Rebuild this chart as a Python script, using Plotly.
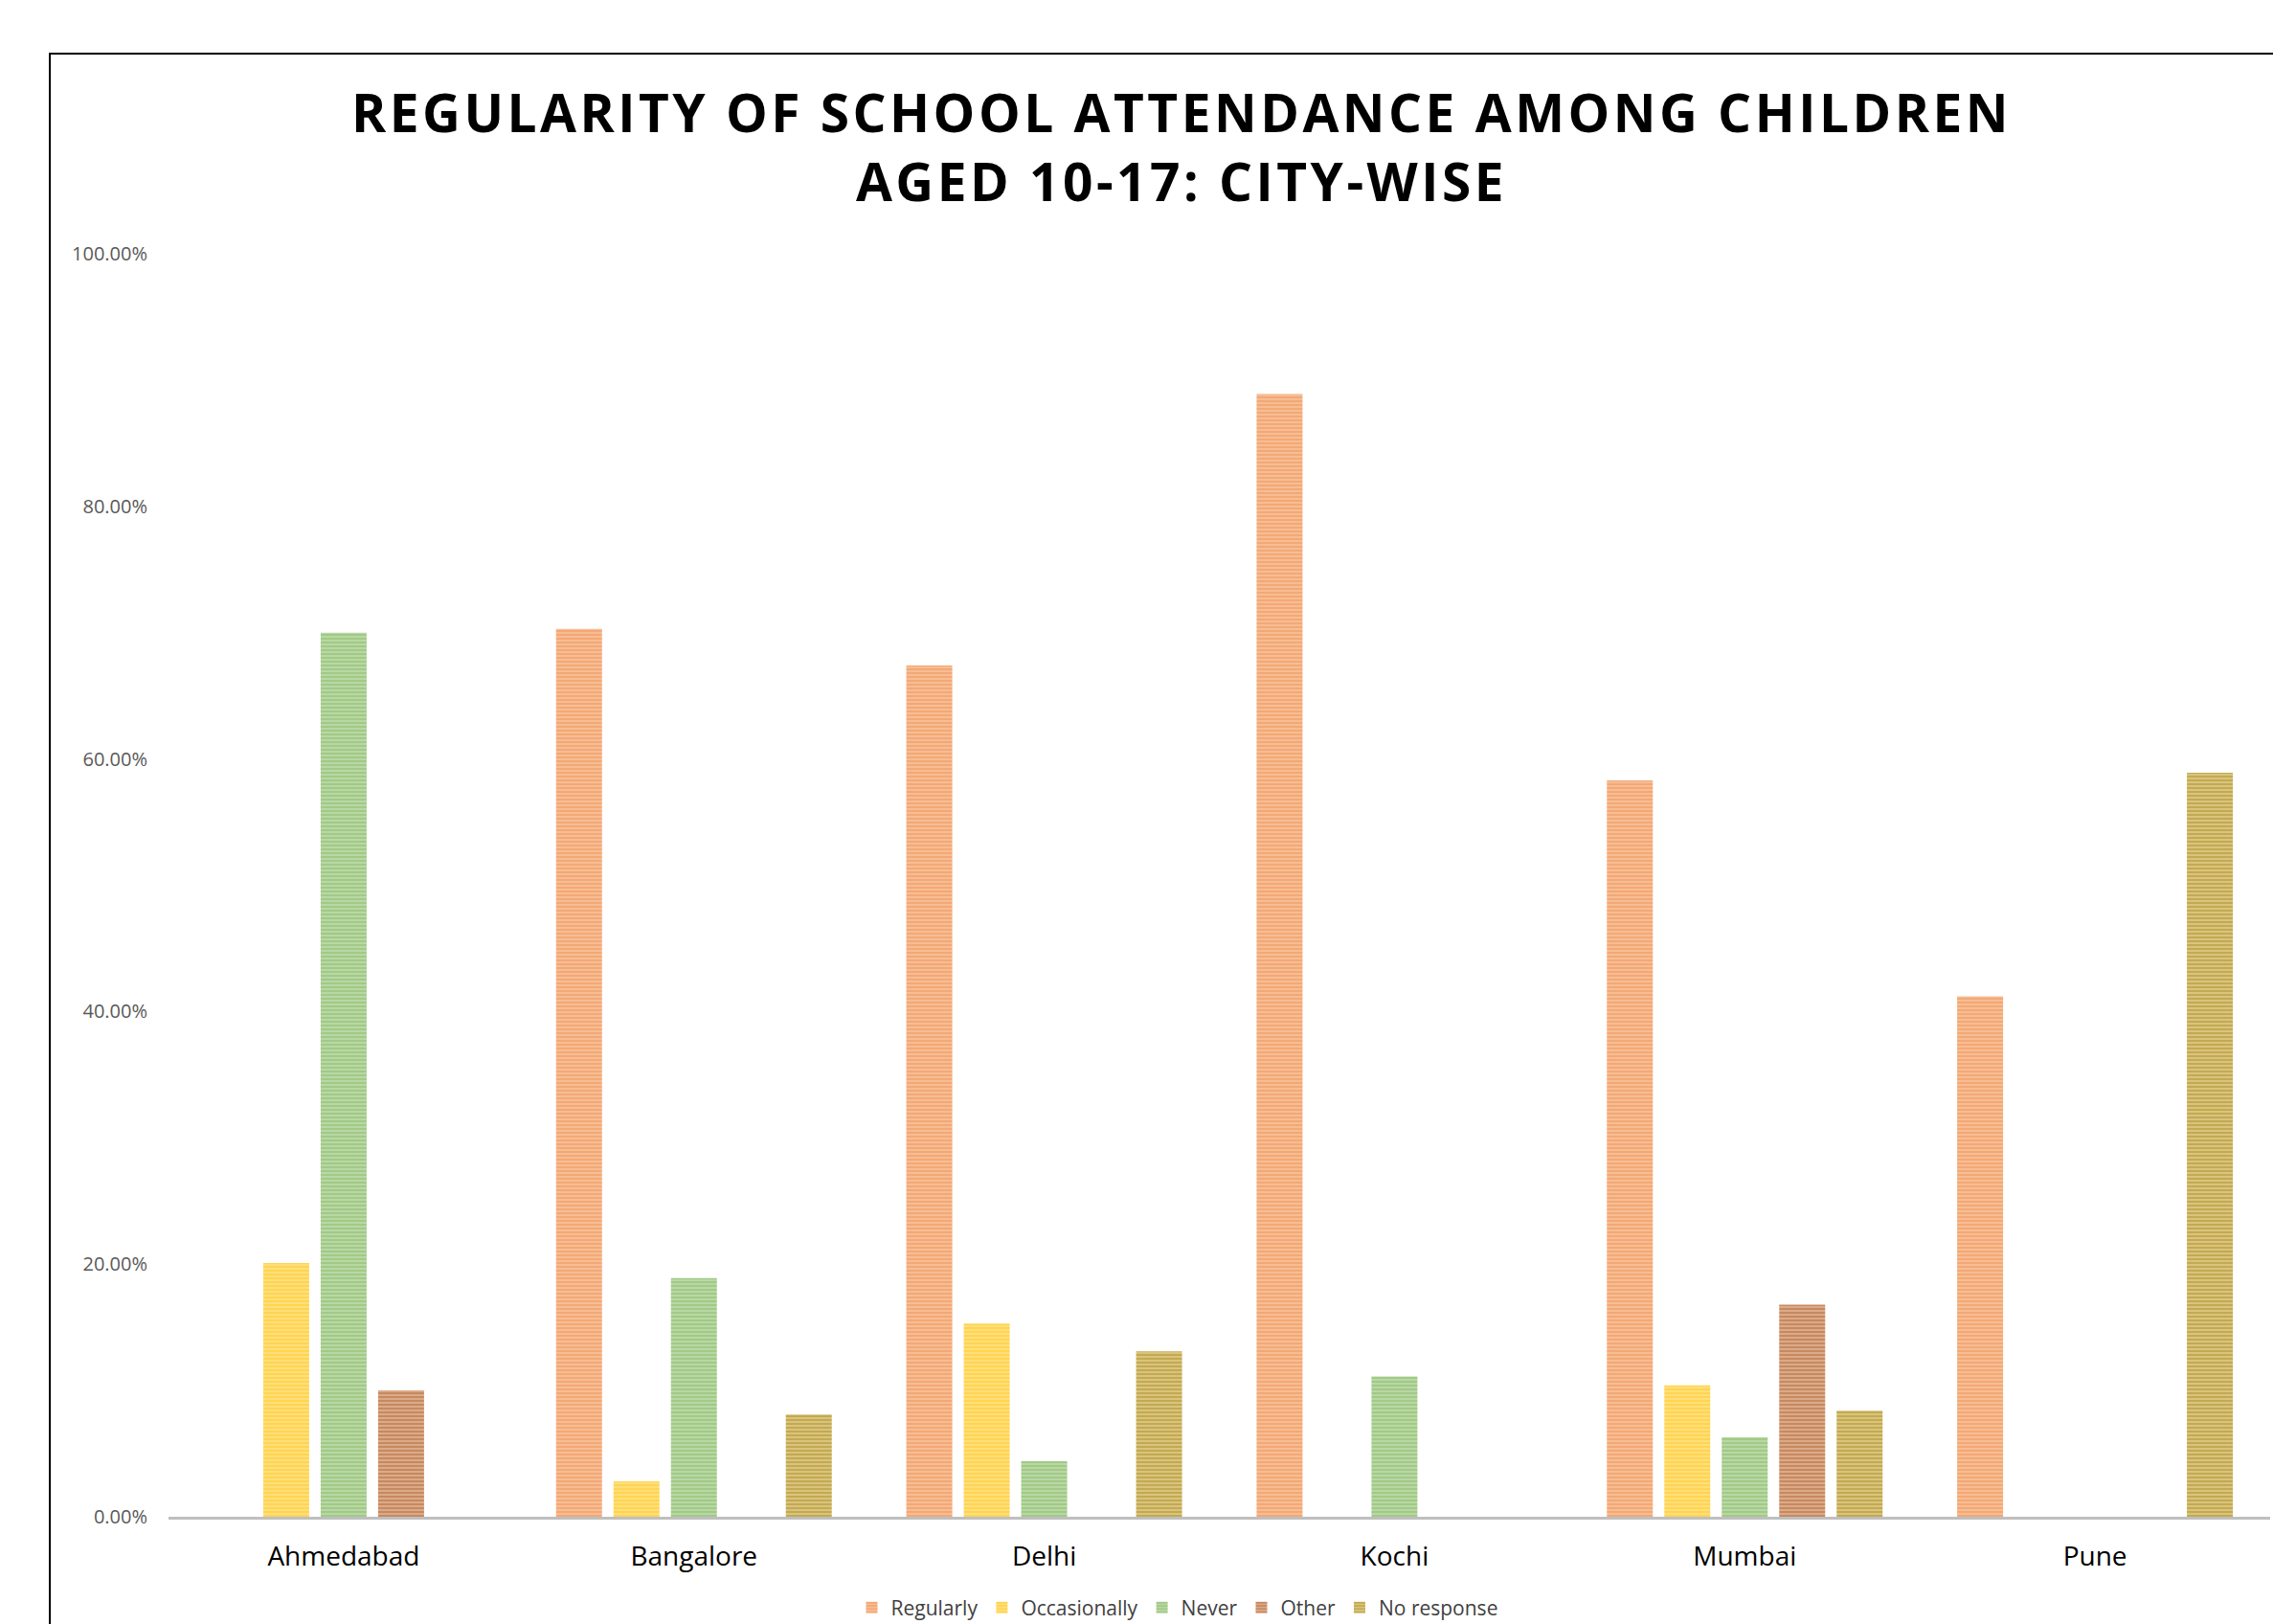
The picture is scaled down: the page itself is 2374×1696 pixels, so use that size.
import plotly.graph_objects as go

cities = ["Ahmedabad", "Bangalore", "Delhi", "Kochi", "Mumbai", "Pune"]
regularly = [0.0, 0.703, 0.674, 0.889, 0.583, 0.412]
occasionally = [0.201, 0.028, 0.153, 0.0, 0.104, 0.0]
never = [0.700, 0.189, 0.044, 0.111, 0.063, 0.0]
other = [0.100, 0.0, 0.0, 0.0, 0.168, 0.0]
no_response = [0.0, 0.081, 0.131, 0.0, 0.084, 0.589]
y_ticks = [0, 0.2, 0.4, 0.6, 0.8, 1.0]

series = [
    ("Regularly", regularly, "#ED7D31", "#FAD2B6"),
    ("Occasionally", occasionally, "#FFC000", "#FFE9A3"),
    ("Never", never, "#70AD47", "#D2E6C4"),
    ("Other", other, "#9E480E", "#EFCBB2"),
    ("No response", no_response, "#997300", "#EEDFA6"),
]

fig = go.Figure()
for name, vals, fg, bg in series:
    fig.add_trace(go.Bar(
        name=name, x=cities, y=vals,
        marker=dict(
            color=bg,
            line=dict(width=0),
            pattern=dict(shape="-", fgcolor=fg, bgcolor=bg, size=4, solidity=0.75),
        ),
    ))

W, H = 2374, 1696
PL, PR, PT, PB = 176, 3, 265, 112
PW = W - PL - PR
PH = H - PT - PB
fig.update_layout(
    width=W, height=H, autosize=False,
    paper_bgcolor="white", plot_bgcolor="white",
    margin=dict(l=PL, r=PR, t=PT, b=PB, autoexpand=False),
    barmode="group", bargap=0.18, bargroupgap=0.2,
    font=dict(family="Open Sans, Lato, sans-serif"),
    title=dict(
        text="REGULARITY OF SCHOOL ATTENDANCE AMONG CHILDREN<br>AGED 10-17: CITY-WISE",
        x=1234 / W, xanchor="center", xref="container",
        y=1 - 138 / H, yanchor="middle", yref="container",
        font=dict(family="Open Sans, sans-serif", size=55, color="#000000", weight="bold"),
    ),
    legend=dict(
        orientation="h", xref="container", x=1230 / W, xanchor="center",
        yref="container", y=1 - 1679 / H, yanchor="middle",
        font=dict(size=21, color="#404040"),
        tracegroupgap=0,
    ),
    showlegend=True,
)
fig.update_yaxes(
    range=[0, 1], tickvals=y_ticks, tickformat=".2%", automargin=False,
    showgrid=False, zeroline=False, showline=False,
    tickfont=dict(size=20, color="#595959"), ticklabelstandoff=21,
)
fig.update_xaxes(
    showgrid=False, showline=True, linecolor="#BFBFBF", linewidth=3, automargin=False,
    ticks="", tickfont=dict(size=28, color="#000000"), ticklabelstandoff=14,
)
fig.add_shape(
    type="rect", xref="paper", yref="paper",
    x0=(52 - PL) / PW, x1=1.2,
    y0=-0.5, y1=(H - PB - 56) / PH,
    line=dict(color="black", width=2), fillcolor="rgba(0,0,0,0)", layer="below",
)
post = (
    "document.body.style.margin='0px';"
    "document.querySelectorAll('.gtitle').forEach(function(e){e.style.letterSpacing='3.5px';});"
)
fig.write_html("out.html", post_script=post, config={"displayModeBar": False})
